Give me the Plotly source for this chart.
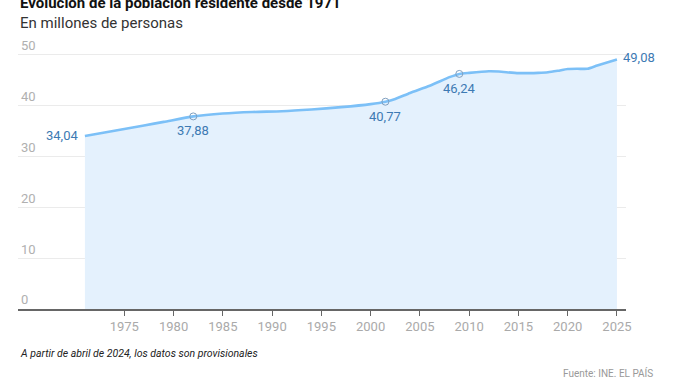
import plotly.graph_objects as go

years = [1971, 1973, 1975, 1977, 1979, 1982, 1985, 1988, 1991, 1994, 1997, 2000,
         2001.5, 2002.5, 2004, 2006, 2008, 2009, 2010, 2012, 2013, 2015, 2017,
         2018, 2019, 2020, 2021, 2022, 2023, 2024, 2025]
poblacion = [34.04, 34.7, 35.4, 36.1, 36.8, 37.88, 38.45, 38.75, 38.9, 39.25, 39.7, 40.3,
             40.77, 41.3, 42.5, 43.9, 45.6, 46.24, 46.45, 46.75, 46.7, 46.4, 46.45,
             46.55, 46.85, 47.2, 47.25, 47.25, 47.9, 48.5, 49.08]

marker_years = [1982, 2001.5, 2009]
marker_vals = [37.88, 40.77, 46.24]
label_years = [1971, 1982, 2001.5, 2009, 2025]
label_vals = [34.04, 37.88, 40.77, 46.24, 49.08]

tick_years = [1975, 1980, 1985, 1990, 1995, 2000, 2005, 2010, 2015, 2020, 2025]
y_ticks = [0, 10, 20, 30, 40, 50]

LINE = "#7cc0f7"
FILL = "#e4f1fd"
LABEL = "#3d7ab3"
FONT = "Roboto"

fig = go.Figure()
fig.add_trace(go.Scatter(
    x=years, y=poblacion, mode="lines", line=dict(color=LINE, width=2.6, shape="spline", smoothing=0.6),
    fill="tozeroy", fillcolor=FILL, hoverinfo="skip", showlegend=False))
fig.add_trace(go.Scatter(
    x=marker_years, y=marker_vals, mode="markers",
    marker=dict(symbol="circle-open", size=7, color="#7f9fbf", line=dict(width=1)),
    hoverinfo="skip", showlegend=False))

def fmt(v):
    return f"{v:.2f}".replace(".", ",")

# label placements: (xanchor, yanchor, xshift, yshift)
placements = [("right", "middle", -5, 0), ("center", "top", 0, -5), ("center", "top", 0, -5),
              ("center", "top", 0, -5), ("left", "middle", 4, 2)]
for yr, v, (xa, ya, xs, ys) in zip(label_years, label_vals, placements):
    fig.add_annotation(x=yr, y=v, xref="x", yref="y", text=fmt(v), showarrow=False,
                       xanchor=xa, yanchor=ya, xshift=xs, yshift=ys,
                       font=dict(family=FONT, size=13, color=LABEL))

fig.add_annotation(x=0, y=1.1266, xref="paper", yref="paper", xanchor="left", yanchor="middle",
                   text="<b>Evolución de la población residente desde 1971</b>", showarrow=False,
                   font=dict(family=FONT, size=15, color="#111"))
fig.add_annotation(x=0, y=1.0532, xref="paper", yref="paper", xanchor="left", yanchor="middle",
                   text="En millones de personas", showarrow=False,
                   font=dict(family=FONT, size=15, color="#333"))
fig.add_annotation(x=0, y=-0.1651, xref="paper", yref="paper", xanchor="left", yanchor="middle",
                   text="<i>A partir de abril de 2024, los datos son provisionales</i>", showarrow=False,
                   font=dict(family=FONT, size=10.5, color="#222"))
fig.add_annotation(x=1.0477, y=-0.2349, xref="paper", yref="paper", xanchor="right", yanchor="middle",
                   text="Fuente: INE. EL PAÍS", showarrow=False,
                   font=dict(family=FONT, size=10, color="#999"))

fig.update_xaxes(range=[1964.21, 2025.92], tickvals=tick_years, ticktext=[str(t) for t in tick_years],
                 showgrid=False, zeroline=False, showline=True, linecolor="#666", linewidth=1.5,
                 ticks="outside", ticklen=5, tickcolor="#666", tickwidth=1,
                 tickfont=dict(family=FONT, size=13, color="#aaa"))
fig.update_yaxes(range=[0, 53.5], tickvals=y_ticks, showgrid=True, gridcolor="#ebebeb", gridwidth=1,
                 zeroline=False, showline=False, ticks="", ticklabelposition="inside top",
                 tickfont=dict(family=FONT, size=13, color="#b0b0b0"))

fig.update_layout(width=678, height=381, margin=dict(l=18, r=52, t=36.5, b=72),
                  paper_bgcolor="white", plot_bgcolor="white")
fig.write_html("out.html", config={"displayModeBar": False},
               post_script="document.body.style.margin='0';document.body.style.overflow='hidden';")
